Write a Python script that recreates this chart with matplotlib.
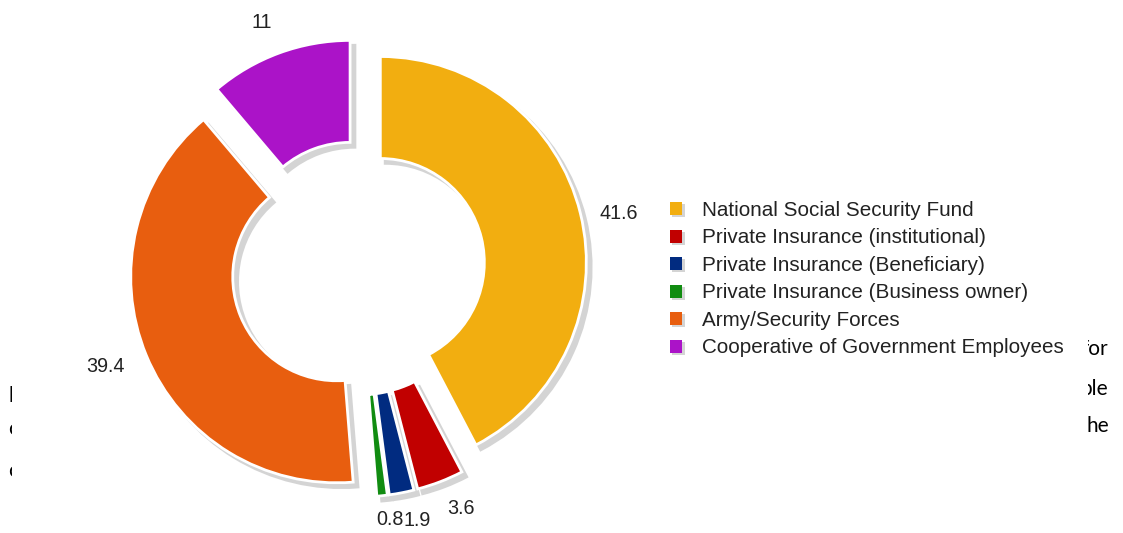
import numpy as np
import matplotlib
matplotlib.use('Agg')
import matplotlib.pyplot as plt
from matplotlib.patches import Rectangle, Wedge
from matplotlib.legend_handler import HandlerBase
from matplotlib.transforms import Bbox, TransformedBbox

W, H = 1123, 533

sources = ['National Social Security Fund',
           'Private Insurance (institutional)',
           'Private Insurance (Beneficiary)',
           'Private Insurance (Business owner)',
           'Army/Security Forces',
           'Cooperative of Government Employees']
shares = [41.6, 3.6, 1.9, 0.8, 39.4, 11]
colors = ['#F2AE10', '#C10000', '#012B80', '#118C11', '#E85E0F', '#AB13C8']

# bits of page text peeking out around the chart
page_bits_right = ['for', 'ple', 'he']
page_bits_left = ['l', 'o', 'o']

plt.rcParams['font.family'] = ['Liberation Sans', 'DejaVu Sans']
shadow_grey = '#d4d4d4'
ink = '#222222'


class SquareWithShadow(HandlerBase):
    # legend key: small square with a grey drop shadow
    def create_artists(self, legend, orig_handle, xdescent, ydescent,
                       width, height, fontsize, trans):
        s = height
        x0 = -xdescent + (width - s) / 2
        y0 = -ydescent
        shade = Rectangle((x0 + 1.5, y0 - 1.5), s, s, facecolor=shadow_grey,
                          edgecolor='none', transform=trans)
        box = Rectangle((x0, y0), s, s, facecolor=orig_handle.get_facecolor(),
                        edgecolor='none', transform=trans)
        return [shade, box]


fig = plt.figure(figsize=(W / 100, H / 100), dpi=100)
ax = fig.add_axes([0, 0, 1, 1])

R = 206
ring = 102
cx, cy = 358, H - 268
pull = 23  # explode distance, in pixels since the axes is in pixel units

wedges, _ = ax.pie(shares, colors=colors, radius=R, center=(cx, cy),
                   startangle=90, counterclock=False, labeldistance=None,
                   explode=[pull] * len(shares),
                   wedgeprops=dict(width=ring, edgecolor='white', linewidth=2),
                   shadow=dict(ox=3.5, oy=-3.5, facecolor=shadow_grey,
                               edgecolor=shadow_grey, alpha=1, linewidth=2))

# value labels just outside each slice
frac = np.array(shares) / sum(shares)
ends = 90 - 360 * np.cumsum(frac)
mids = np.radians(ends + 180 * frac)
lab_r = [1.18, 1.156, 1.145, 1.12, 1.207, 1.17]
lab_turn = np.radians([-2.3, 2.3, 2.4, 1.4, -1.2, 1.3])
for v, m, lr, lt in zip(shares, mids, lab_r, lab_turn):
    x = cx + pull * np.cos(m) + lr * R * np.cos(m + lt)
    y = cy + pull * np.sin(m) + lr * R * np.sin(m + lt)
    ax.text(x, y, f'{v:g}', ha='center', va='center', fontsize=14.2, color=ink)

ax.legend(wedges, sources, handler_map={Wedge: SquareWithShadow()},
          loc='upper left', bbox_to_anchor=(670, H - 201),
          bbox_transform=ax.transData, frameon=False, fontsize=14.9,
          labelcolor=ink, labelspacing=0.41, handlelength=0.58,
          handleheight=0.58, handletextpad=0.97, borderpad=0,
          borderaxespad=0)


def clipped(txt, x, y, x0, x1):
    t = ax.text(x, y, txt, fontsize=15, family=['Lato', 'DejaVu Sans'],
                color='black', va='baseline', clip_on=True)
    t.set_clip_box(TransformedBbox(Bbox([[x0, 0], [x1, H]]), ax.transData))


for txt, xs, ys in zip(page_bits_right, [1082, 1080, 1087], [355, 395, 432]):
    clipped(txt, xs, H - ys, 1088, W)
for txt, ys in zip(page_bits_left, [402, 435, 477]):
    clipped(txt, 8, H - ys, 0, 11.5)

ax.set_xlim(0, W)
ax.set_ylim(0, H)
ax.set_aspect('equal')
ax.axis('off')

fig.savefig('out.png', dpi=100, facecolor='white')
